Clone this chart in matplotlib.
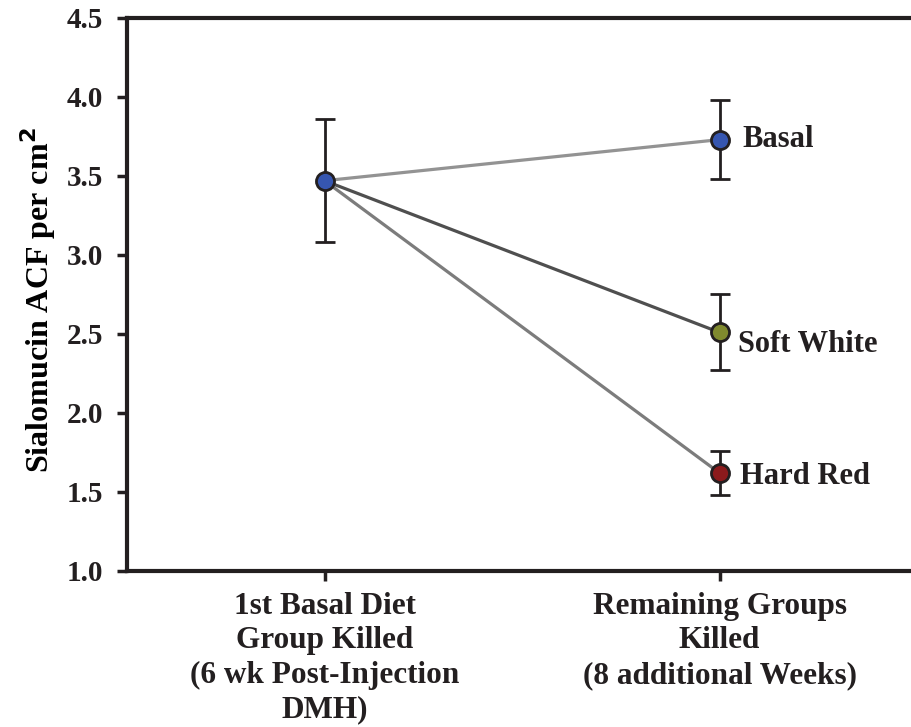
import matplotlib
matplotlib.use('Agg')
import matplotlib.pyplot as plt

# Data
categories = ['1st Basal Diet\nGroup Killed\n(6 wk Post-Injection\nDMH)',
              'Remaining Groups\nKilled\n(8 additional Weeks)']
start_val = 3.47
start_err = 0.39
groups = ['Basal', 'Soft White', 'Hard Red']
end_vals = [3.73, 2.51, 1.62]
end_errs = [0.25, 0.24, 0.14]
line_colors = ['#939393', '#4f4f4f', '#7c7c7c']
marker_colors = ['#3656b0', '#808a2e', '#8c1a1c']

plt.rcParams['font.family'] = ['Liberation Serif', 'DejaVu Serif']
plt.rcParams['font.weight'] = 'bold'

fig = plt.figure(figsize=(9.12, 7.27), dpi=100)
ax = fig.add_axes([0.1393, 0.2146, 0.8662, 0.7607])

ink = '#231f20'

# connecting lines
for i, g in enumerate(groups):
    ax.plot([0, 1], [start_val, end_vals[i]], color=line_colors[i], linewidth=2.3, zorder=1)

# error bars
ax.errorbar([0], [start_val], yerr=[start_err], fmt='none', ecolor=ink,
            elinewidth=2, capsize=7, capthick=2, zorder=2)
ax.errorbar([1, 1, 1], end_vals, yerr=end_errs, fmt='none', ecolor=ink,
            elinewidth=2, capsize=7, capthick=2, zorder=2)

# markers
ax.plot([0], [start_val], 'o', markersize=13, markerfacecolor=marker_colors[0],
        markeredgecolor=ink, markeredgewidth=2, zorder=3)
for i, g in enumerate(groups):
    ax.plot([1], [end_vals[i]], 'o', markersize=13, markerfacecolor=marker_colors[i],
            markeredgecolor=ink, markeredgewidth=2, zorder=3)

# labels next to end points
dx = [0.058, 0.048, 0.053]
dy = [0.0, -0.076, -0.025]
for i, g in enumerate(groups):
    ax.text(1 + dx[i], end_vals[i] + dy[i], g, fontsize=22, fontweight='bold',
            color=ink, va='center', ha='left')

ax.set_xlim(-0.5, 1.5)
ax.set_ylim(1.0, 4.5)
ax.set_yticks([1.0, 1.5, 2.0, 2.5, 3.0, 3.5, 4.0, 4.5])
ax.set_yticklabels(['%.1f' % v for v in ax.get_yticks()])
ax.set_xticks([0, 1])
ax.set_xticklabels(categories, fontsize=22.5, linespacing=1.25)

for lab in ax.get_yticklabels():
    lab.set_fontsize(21)
    lab.set_fontweight('bold')

ax.set_ylabel('Sialomucin ACF per cm$^\\mathbf{2}$', fontsize=23, fontweight='bold')
ax.yaxis.set_label_coords(-0.087, 0.49)

for s in ['left', 'bottom', 'top']:
    ax.spines[s].set_linewidth(3)
    ax.spines[s].set_color(ink)
ax.spines['right'].set_visible(False)
ax.tick_params(axis='both', direction='out', length=7, width=2.5, color=ink, labelcolor=ink)
ax.tick_params(axis='y', pad=10)
ax.tick_params(axis='x', pad=8)

fig.savefig('out.png', dpi=100)
